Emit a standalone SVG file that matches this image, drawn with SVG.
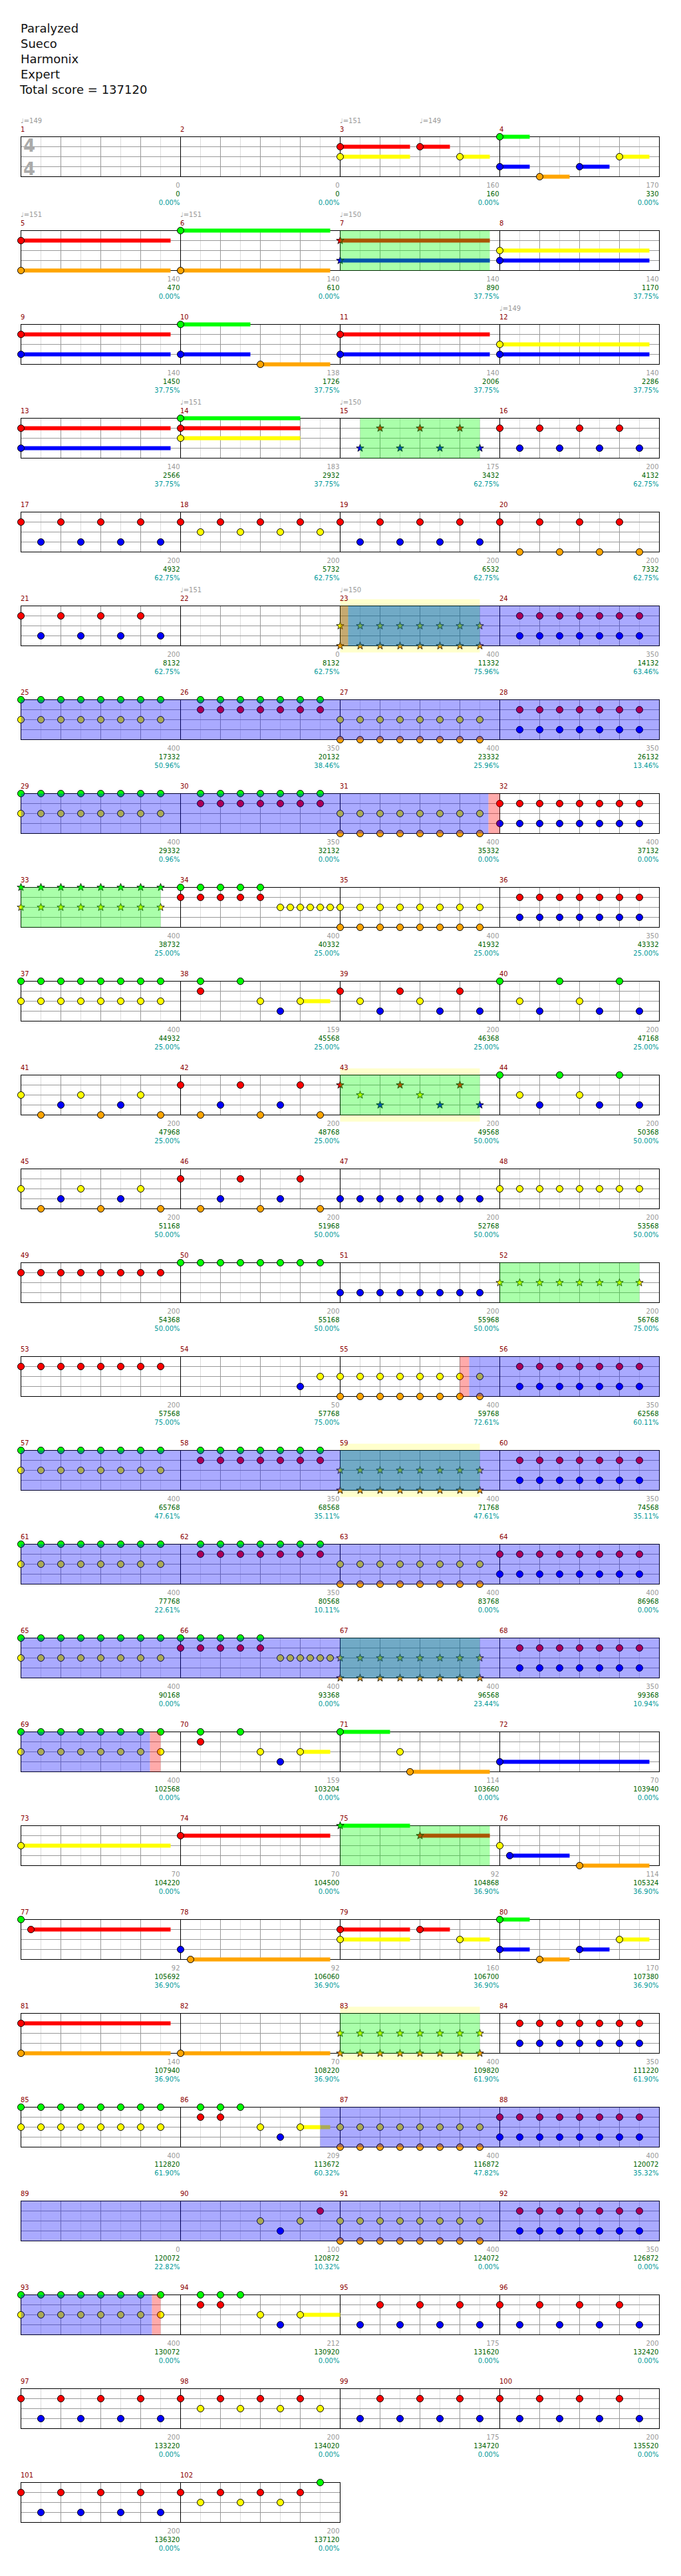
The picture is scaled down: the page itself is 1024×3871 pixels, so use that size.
<svg xmlns="http://www.w3.org/2000/svg" xmlns:xlink="http://www.w3.org/1999/xlink" width="1024" height="3871" viewBox="0 0 1024 3871">
<style>
text{font-family:"DejaVu Sans","Liberation Sans",sans-serif;font-size:10px}
.t{font-size:18px;fill:#111}
.ts{font-size:26px;font-weight:bold;fill:#aaa}
.mn{fill:#8b0000}
.tp{fill:#999}
.e text{text-anchor:end}
.a{fill:#999}.c{fill:#006400}.p{fill:#009999}
circle{stroke:#000;stroke-width:1}
.G{fill:#0f0}.R{fill:#f00}.Y{fill:#ff0}.B{fill:#00f}.O{fill:#ffa500}
.sp{fill:#0f0;opacity:.333}
.bl{fill:#00f;opacity:.333}
.rd{fill:#f00;opacity:.333}
.yl{fill:#ff0;opacity:.2}
</style>
<defs>
<path id="st" d="M0,-6L1.41,-1.94L5.71,-1.85L2.28,0.74L3.53,4.85L0,2.4L-3.53,4.85L-2.28,0.74L-5.71,-1.85L-1.41,-1.94Z" stroke="#000" stroke-width=".8"/>
<g id="staff4">
<rect x="31.5" y="0" width="960" height="60" fill="#fff"/>
<path d="M61.5,0V60M121.5,0V60M181.5,0V60M241.5,0V60M301.5,0V60M361.5,0V60M421.5,0V60M481.5,0V60M541.5,0V60M601.5,0V60M661.5,0V60M721.5,0V60M781.5,0V60M841.5,0V60M901.5,0V60M961.5,0V60" stroke="#ddd"/>
<path d="M91.5,0V60M151.5,0V60M211.5,0V60M331.5,0V60M391.5,0V60M451.5,0V60M571.5,0V60M631.5,0V60M691.5,0V60M811.5,0V60M871.5,0V60M931.5,0V60M31.5,15H991.5M31.5,30H991.5M31.5,45H991.5" stroke="#999"/>
<path d="M271.5,0V60M511.5,0V60M751.5,0V60" stroke="#000"/>
<rect x="31.5" y="0" width="960" height="60" fill="none" stroke="#000"/>
</g>
<g id="staff2">
<rect x="31.5" y="0" width="480" height="60" fill="#fff"/>
<path d="M61.5,0V60M121.5,0V60M181.5,0V60M241.5,0V60M301.5,0V60M361.5,0V60M421.5,0V60M481.5,0V60" stroke="#ddd"/>
<path d="M91.5,0V60M151.5,0V60M211.5,0V60M331.5,0V60M391.5,0V60M451.5,0V60M31.5,15H511.5M31.5,30H511.5M31.5,45H511.5" stroke="#999"/>
<path d="M271.5,0V60" stroke="#000"/>
<rect x="31.5" y="0" width="480" height="60" fill="none" stroke="#000"/>
</g>
<g id="gy8">
<circle cx="31.5" cy="0" r="5" class="G"/><circle cx="61.5" cy="0" r="5" class="G"/><circle cx="91.5" cy="0" r="5" class="G"/><circle cx="121.5" cy="0" r="5" class="G"/><circle cx="151.5" cy="0" r="5" class="G"/><circle cx="181.5" cy="0" r="5" class="G"/><circle cx="211.5" cy="0" r="5" class="G"/><circle cx="241.5" cy="0" r="5" class="G"/>
<circle cx="31.5" cy="30" r="5" class="Y"/><circle cx="61.5" cy="30" r="5" class="Y"/><circle cx="91.5" cy="30" r="5" class="Y"/><circle cx="121.5" cy="30" r="5" class="Y"/><circle cx="151.5" cy="30" r="5" class="Y"/><circle cx="181.5" cy="30" r="5" class="Y"/><circle cx="211.5" cy="30" r="5" class="Y"/><circle cx="241.5" cy="30" r="5" class="Y"/>
</g>
<g id="gr7">
<circle cx="61.5" cy="0" r="5" class="G"/><circle cx="91.5" cy="0" r="5" class="G"/><circle cx="121.5" cy="0" r="5" class="G"/><circle cx="151.5" cy="0" r="5" class="G"/><circle cx="181.5" cy="0" r="5" class="G"/><circle cx="211.5" cy="0" r="5" class="G"/><circle cx="241.5" cy="0" r="5" class="G"/>
<circle cx="61.5" cy="15" r="5" class="R"/><circle cx="91.5" cy="15" r="5" class="R"/><circle cx="121.5" cy="15" r="5" class="R"/><circle cx="151.5" cy="15" r="5" class="R"/><circle cx="181.5" cy="15" r="5" class="R"/><circle cx="211.5" cy="15" r="5" class="R"/><circle cx="241.5" cy="15" r="5" class="R"/>
</g>
<g id="yo8">
<circle cx="31.5" cy="30" r="5" class="Y"/><circle cx="61.5" cy="30" r="5" class="Y"/><circle cx="91.5" cy="30" r="5" class="Y"/><circle cx="121.5" cy="30" r="5" class="Y"/><circle cx="151.5" cy="30" r="5" class="Y"/><circle cx="181.5" cy="30" r="5" class="Y"/><circle cx="211.5" cy="30" r="5" class="Y"/><circle cx="241.5" cy="30" r="5" class="Y"/>
<circle cx="31.5" cy="60" r="5" class="O"/><circle cx="61.5" cy="60" r="5" class="O"/><circle cx="91.5" cy="60" r="5" class="O"/><circle cx="121.5" cy="60" r="5" class="O"/><circle cx="151.5" cy="60" r="5" class="O"/><circle cx="181.5" cy="60" r="5" class="O"/><circle cx="211.5" cy="60" r="5" class="O"/><circle cx="241.5" cy="60" r="5" class="O"/>
</g>
<g id="rb7">
<circle cx="61.5" cy="15" r="5" class="R"/><circle cx="91.5" cy="15" r="5" class="R"/><circle cx="121.5" cy="15" r="5" class="R"/><circle cx="151.5" cy="15" r="5" class="R"/><circle cx="181.5" cy="15" r="5" class="R"/><circle cx="211.5" cy="15" r="5" class="R"/><circle cx="241.5" cy="15" r="5" class="R"/>
<circle cx="61.5" cy="45" r="5" class="B"/><circle cx="91.5" cy="45" r="5" class="B"/><circle cx="121.5" cy="45" r="5" class="B"/><circle cx="151.5" cy="45" r="5" class="B"/><circle cx="181.5" cy="45" r="5" class="B"/><circle cx="211.5" cy="45" r="5" class="B"/><circle cx="241.5" cy="45" r="5" class="B"/>
</g>
<g id="rb8">
<circle cx="31.5" cy="15" r="5" class="R"/><use href="#rb7"/>
<circle cx="31.5" cy="45" r="5" class="B"/>
</g>
<g id="rba">
<circle cx="31.5" cy="15" r="5" class="R"/><circle cx="91.5" cy="15" r="5" class="R"/><circle cx="151.5" cy="15" r="5" class="R"/><circle cx="211.5" cy="15" r="5" class="R"/>
<circle cx="61.5" cy="45" r="5" class="B"/><circle cx="121.5" cy="45" r="5" class="B"/><circle cx="181.5" cy="45" r="5" class="B"/><circle cx="241.5" cy="45" r="5" class="B"/>
</g>
<g id="rbb">
<circle cx="91.5" cy="15" r="5" class="R"/><circle cx="151.5" cy="15" r="5" class="R"/><circle cx="211.5" cy="15" r="5" class="R"/>
<circle cx="61.5" cy="45" r="5" class="B"/><circle cx="121.5" cy="45" r="5" class="B"/><circle cx="181.5" cy="45" r="5" class="B"/><circle cx="241.5" cy="45" r="5" class="B"/>
</g>
<g id="rya">
<circle cx="31.5" cy="15" r="5" class="R"/><circle cx="91.5" cy="15" r="5" class="R"/><circle cx="151.5" cy="15" r="5" class="R"/><circle cx="211.5" cy="15" r="5" class="R"/>
<circle cx="61.5" cy="30" r="5" class="Y"/><circle cx="121.5" cy="30" r="5" class="Y"/><circle cx="181.5" cy="30" r="5" class="Y"/><circle cx="241.5" cy="30" r="5" class="Y"/>
</g>
<g id="roa">
<circle cx="31.5" cy="15" r="5" class="R"/><circle cx="91.5" cy="15" r="5" class="R"/><circle cx="151.5" cy="15" r="5" class="R"/><circle cx="211.5" cy="15" r="5" class="R"/>
<circle cx="61.5" cy="60" r="5" class="O"/><circle cx="121.5" cy="60" r="5" class="O"/><circle cx="181.5" cy="60" r="5" class="O"/><circle cx="241.5" cy="60" r="5" class="O"/>
</g>
<g id="syo8">
<use href="#st" x="31.5" y="30" class="Y"/><use href="#st" x="61.5" y="30" class="Y"/><use href="#st" x="91.5" y="30" class="Y"/><use href="#st" x="121.5" y="30" class="Y"/><use href="#st" x="151.5" y="30" class="Y"/><use href="#st" x="181.5" y="30" class="Y"/><use href="#st" x="211.5" y="30" class="Y"/><use href="#st" x="241.5" y="30" class="Y"/>
<use href="#st" x="31.5" y="60" class="O"/><use href="#st" x="61.5" y="60" class="O"/><use href="#st" x="91.5" y="60" class="O"/><use href="#st" x="121.5" y="60" class="O"/><use href="#st" x="151.5" y="60" class="O"/><use href="#st" x="181.5" y="60" class="O"/><use href="#st" x="211.5" y="60" class="O"/><use href="#st" x="241.5" y="60" class="O"/>
</g>
<g id="sy8">
<use href="#st" x="31.5" y="30" class="Y"/><use href="#st" x="61.5" y="30" class="Y"/><use href="#st" x="91.5" y="30" class="Y"/><use href="#st" x="121.5" y="30" class="Y"/><use href="#st" x="151.5" y="30" class="Y"/><use href="#st" x="181.5" y="30" class="Y"/><use href="#st" x="211.5" y="30" class="Y"/><use href="#st" x="241.5" y="30" class="Y"/>
</g>
<g id="sgy8">
<use href="#st" x="31.5" y="0" class="G"/><use href="#st" x="61.5" y="0" class="G"/><use href="#st" x="91.5" y="0" class="G"/><use href="#st" x="121.5" y="0" class="G"/><use href="#st" x="151.5" y="0" class="G"/><use href="#st" x="181.5" y="0" class="G"/><use href="#st" x="211.5" y="0" class="G"/><use href="#st" x="241.5" y="0" class="G"/>
<use href="#sy8"/>
</g>
<g id="gry">
<circle cx="31.5" cy="0" r="5" class="G"/><circle cx="61.5" cy="0" r="5" class="G"/><circle cx="91.5" cy="0" r="5" class="G"/><circle cx="121.5" cy="0" r="5" class="G"/><circle cx="151.5" cy="0" r="5" class="G"/>
<circle cx="31.5" cy="15" r="5" class="R"/><circle cx="61.5" cy="15" r="5" class="R"/><circle cx="91.5" cy="15" r="5" class="R"/><circle cx="121.5" cy="15" r="5" class="R"/><circle cx="151.5" cy="15" r="5" class="R"/>
<circle cx="181.5" cy="30" r="5" class="Y"/><circle cx="196.5" cy="30" r="5" class="Y"/><circle cx="211.5" cy="30" r="5" class="Y"/><circle cx="226.5" cy="30" r="5" class="Y"/><circle cx="241.5" cy="30" r="5" class="Y"/><circle cx="256.5" cy="30" r="5" class="Y"/>
</g>
<g id="fa">
<rect class="Y" x="211.5" y="27" width="45" height="6"/>
<circle cx="61.5" cy="0" r="5" class="G"/><circle cx="121.5" cy="0" r="5" class="G"/><circle cx="61.5" cy="15" r="5" class="R"/><circle cx="151.5" cy="30" r="5" class="Y"/><circle cx="181.5" cy="45" r="5" class="B"/><circle cx="211.5" cy="30" r="5" class="Y"/>
</g>
<g id="fb">
<circle cx="61.5" cy="0" r="5" class="G"/><circle cx="91.5" cy="0" r="5" class="G"/><circle cx="121.5" cy="0" r="5" class="G"/><circle cx="61.5" cy="15" r="5" class="R"/><circle cx="91.5" cy="15" r="5" class="R"/><circle cx="151.5" cy="30" r="5" class="Y"/><circle cx="181.5" cy="45" r="5" class="B"/><circle cx="211.5" cy="30" r="5" class="Y"/>
</g>
<g id="ryb">
<circle cx="31.5" cy="15" r="5" class="R"/><circle cx="121.5" cy="15" r="5" class="R"/><circle cx="211.5" cy="15" r="5" class="R"/>
<circle cx="61.5" cy="30" r="5" class="Y"/><circle cx="151.5" cy="30" r="5" class="Y"/>
<circle cx="91.5" cy="45" r="5" class="B"/><circle cx="181.5" cy="45" r="5" class="B"/><circle cx="241.5" cy="45" r="5" class="B"/>
</g>
<g id="sryb">
<use href="#st" x="31.5" y="15" class="R"/><use href="#st" x="121.5" y="15" class="R"/><use href="#st" x="211.5" y="15" class="R"/>
<use href="#st" x="61.5" y="30" class="Y"/><use href="#st" x="151.5" y="30" class="Y"/>
<use href="#st" x="91.5" y="45" class="B"/><use href="#st" x="181.5" y="45" class="B"/><use href="#st" x="241.5" y="45" class="B"/>
</g>
<g id="srbb">
<use href="#st" x="91.5" y="15" class="R"/><use href="#st" x="151.5" y="15" class="R"/><use href="#st" x="211.5" y="15" class="R"/>
<use href="#st" x="61.5" y="45" class="B"/><use href="#st" x="121.5" y="45" class="B"/><use href="#st" x="181.5" y="45" class="B"/><use href="#st" x="241.5" y="45" class="B"/>
</g>
<g id="gyb">
<circle cx="31.5" cy="0" r="5" class="G"/><circle cx="121.5" cy="0" r="5" class="G"/><circle cx="211.5" cy="0" r="5" class="G"/>
<circle cx="61.5" cy="30" r="5" class="Y"/><circle cx="151.5" cy="30" r="5" class="Y"/>
<circle cx="91.5" cy="45" r="5" class="B"/><circle cx="181.5" cy="45" r="5" class="B"/><circle cx="241.5" cy="45" r="5" class="B"/>
</g>
<g id="yob">
<circle cx="31.5" cy="30" r="5" class="Y"/><circle cx="121.5" cy="30" r="5" class="Y"/><circle cx="211.5" cy="30" r="5" class="Y"/>
<circle cx="61.5" cy="60" r="5" class="O"/><circle cx="151.5" cy="60" r="5" class="O"/><circle cx="241.5" cy="60" r="5" class="O"/>
<circle cx="91.5" cy="45" r="5" class="B"/><circle cx="181.5" cy="45" r="5" class="B"/>
</g>
<g id="rob">
<circle cx="31.5" cy="15" r="5" class="R"/><circle cx="121.5" cy="15" r="5" class="R"/><circle cx="211.5" cy="15" r="5" class="R"/>
<circle cx="61.5" cy="60" r="5" class="O"/><circle cx="151.5" cy="60" r="5" class="O"/><circle cx="241.5" cy="60" r="5" class="O"/>
<circle cx="91.5" cy="45" r="5" class="B"/><circle cx="181.5" cy="45" r="5" class="B"/>
</g>
<g id="s3">
<rect class="R" x="31.5" y="12" width="105" height="6"/><rect class="Y" x="31.5" y="27" width="105" height="6"/><rect class="R" x="151.5" y="12" width="45" height="6"/><rect class="Y" x="211.5" y="27" width="45" height="6"/>
<circle cx="31.5" cy="15" r="5" class="R"/><circle cx="31.5" cy="30" r="5" class="Y"/><circle cx="151.5" cy="15" r="5" class="R"/><circle cx="211.5" cy="30" r="5" class="Y"/>
</g>
<g id="s4">
<rect class="G" x="31.5" y="-3" width="45" height="6"/><rect class="B" x="31.5" y="42" width="45" height="6"/><rect class="O" x="91.5" y="57" width="45" height="6"/><rect class="B" x="151.5" y="42" width="45" height="6"/><rect class="Y" x="211.5" y="27" width="45" height="6"/>
<circle cx="31.5" cy="0" r="5" class="G"/><circle cx="31.5" cy="45" r="5" class="B"/><circle cx="91.5" cy="60" r="5" class="O"/><circle cx="151.5" cy="45" r="5" class="B"/><circle cx="211.5" cy="30" r="5" class="Y"/>
</g>
<g id="r8">
<circle cx="31.5" cy="15" r="5" class="R"/><circle cx="61.5" cy="15" r="5" class="R"/><circle cx="91.5" cy="15" r="5" class="R"/><circle cx="121.5" cy="15" r="5" class="R"/><circle cx="151.5" cy="15" r="5" class="R"/><circle cx="181.5" cy="15" r="5" class="R"/><circle cx="211.5" cy="15" r="5" class="R"/><circle cx="241.5" cy="15" r="5" class="R"/>
</g>
<g id="g8">
<circle cx="31.5" cy="0" r="5" class="G"/><circle cx="61.5" cy="0" r="5" class="G"/><circle cx="91.5" cy="0" r="5" class="G"/><circle cx="121.5" cy="0" r="5" class="G"/><circle cx="151.5" cy="0" r="5" class="G"/><circle cx="181.5" cy="0" r="5" class="G"/><circle cx="211.5" cy="0" r="5" class="G"/><circle cx="241.5" cy="0" r="5" class="G"/>
</g>
<g id="b8">
<circle cx="31.5" cy="45" r="5" class="B"/><circle cx="61.5" cy="45" r="5" class="B"/><circle cx="91.5" cy="45" r="5" class="B"/><circle cx="121.5" cy="45" r="5" class="B"/><circle cx="151.5" cy="45" r="5" class="B"/><circle cx="181.5" cy="45" r="5" class="B"/><circle cx="211.5" cy="45" r="5" class="B"/><circle cx="241.5" cy="45" r="5" class="B"/>
</g>
<g id="y8">
<circle cx="31.5" cy="30" r="5" class="Y"/><circle cx="61.5" cy="30" r="5" class="Y"/><circle cx="91.5" cy="30" r="5" class="Y"/><circle cx="121.5" cy="30" r="5" class="Y"/><circle cx="151.5" cy="30" r="5" class="Y"/><circle cx="181.5" cy="30" r="5" class="Y"/><circle cx="211.5" cy="30" r="5" class="Y"/><circle cx="241.5" cy="30" r="5" class="Y"/>
</g>
</defs>
<rect width="1024" height="3871" fill="#fff"/>
<g id="title">
<text x="31" y="49" class="t">Paralyzed</text>
<text x="31" y="72" class="t">Sueco</text>
<text x="31" y="95" class="t">Harmonix</text>
<text x="31" y="118" class="t">Expert</text>
<text x="30" y="141" class="t">Total score = 137120</text>
</g>

<g id="row1" transform="translate(0,205.5)">
<text x="31" y="-21" class="tp">♩=149</text><text x="511" y="-21" class="tp">♩=151</text><text x="631" y="-21" class="tp">♩=149</text>
<text x="31" y="-8" class="mn">1</text><text x="271" y="-8" class="mn">2</text><text x="511" y="-8" class="mn">3</text><text x="751" y="-8" class="mn">4</text>
<use href="#staff4"/>
<text x="35" y="22.5" class="ts">4</text><text x="35" y="57.5" class="ts">4</text>
<use href="#s3" x="480"/><use href="#s4" x="720"/>
<g class="e"><text x="270.5" y="76" class="a">0</text><text x="270.5" y="89" class="c">0</text><text x="270.5" y="102" class="p">0.00%</text>
<text x="510.5" y="76" class="a">0</text><text x="510.5" y="89" class="c">0</text><text x="510.5" y="102" class="p">0.00%</text>
<text x="750.5" y="76" class="a">160</text><text x="750.5" y="89" class="c">160</text><text x="750.5" y="102" class="p">0.00%</text>
<text x="990.5" y="76" class="a">170</text><text x="990.5" y="89" class="c">330</text><text x="990.5" y="102" class="p">0.00%</text></g>
</g>

<g id="row2" transform="translate(0,346.5)">
<text x="31" y="-21" class="tp">♩=151</text><text x="271" y="-21" class="tp">♩=151</text><text x="511" y="-21" class="tp">♩=150</text>
<text x="31" y="-8" class="mn">5</text><text x="271" y="-8" class="mn">6</text><text x="511" y="-8" class="mn">7</text><text x="751" y="-8" class="mn">8</text>
<use href="#staff4"/>
<rect class="R" x="31.5" y="12" width="225" height="6"/><rect class="O" x="31.5" y="57" width="225" height="6"/><rect class="G" x="271.5" y="-3" width="225" height="6"/><rect class="O" x="271.5" y="57" width="225" height="6"/><rect class="R" x="511.5" y="12" width="225" height="6"/><rect class="B" x="511.5" y="42" width="225" height="6"/><rect class="Y" x="751.5" y="27" width="225" height="6"/><rect class="B" x="751.5" y="42" width="225" height="6"/>
<circle cx="31.5" cy="15" r="5" class="R"/><circle cx="31.5" cy="60" r="5" class="O"/><circle cx="271.5" cy="0" r="5" class="G"/><circle cx="271.5" cy="60" r="5" class="O"/><use href="#st" x="511.5" y="15" class="R"/><use href="#st" x="511.5" y="45" class="B"/><circle cx="751.5" cy="30" r="5" class="Y"/><circle cx="751.5" cy="45" r="5" class="B"/>
<rect class="sp" x="511.5" y="0" width="225" height="60"/>
<g class="e"><text x="270.5" y="76" class="a">140</text><text x="270.5" y="89" class="c">470</text><text x="270.5" y="102" class="p">0.00%</text>
<text x="510.5" y="76" class="a">140</text><text x="510.5" y="89" class="c">610</text><text x="510.5" y="102" class="p">0.00%</text>
<text x="750.5" y="76" class="a">140</text><text x="750.5" y="89" class="c">890</text><text x="750.5" y="102" class="p">37.75%</text>
<text x="990.5" y="76" class="a">140</text><text x="990.5" y="89" class="c">1170</text><text x="990.5" y="102" class="p">37.75%</text></g>
</g>

<g id="row3" transform="translate(0,487.5)">
<text x="751" y="-21" class="tp">♩=149</text>
<text x="31" y="-8" class="mn">9</text><text x="271" y="-8" class="mn">10</text><text x="511" y="-8" class="mn">11</text><text x="751" y="-8" class="mn">12</text>
<use href="#staff4"/>
<rect class="R" x="31.5" y="12" width="225" height="6"/><rect class="B" x="31.5" y="42" width="225" height="6"/><rect class="G" x="271.5" y="-3" width="105" height="6"/><rect class="B" x="271.5" y="42" width="105" height="6"/><rect class="O" x="391.5" y="57" width="105" height="6"/><rect class="R" x="511.5" y="12" width="225" height="6"/><rect class="B" x="511.5" y="42" width="225" height="6"/><rect class="Y" x="751.5" y="27" width="225" height="6"/><rect class="B" x="751.5" y="42" width="225" height="6"/>
<circle cx="31.5" cy="15" r="5" class="R"/><circle cx="31.5" cy="45" r="5" class="B"/><circle cx="271.5" cy="0" r="5" class="G"/><circle cx="271.5" cy="45" r="5" class="B"/><circle cx="391.5" cy="60" r="5" class="O"/><circle cx="511.5" cy="15" r="5" class="R"/><circle cx="511.5" cy="45" r="5" class="B"/><circle cx="751.5" cy="30" r="5" class="Y"/><circle cx="751.5" cy="45" r="5" class="B"/>
<g class="e"><text x="270.5" y="76" class="a">140</text><text x="270.5" y="89" class="c">1450</text><text x="270.5" y="102" class="p">37.75%</text>
<text x="510.5" y="76" class="a">138</text><text x="510.5" y="89" class="c">1726</text><text x="510.5" y="102" class="p">37.75%</text>
<text x="750.5" y="76" class="a">140</text><text x="750.5" y="89" class="c">2006</text><text x="750.5" y="102" class="p">37.75%</text>
<text x="990.5" y="76" class="a">140</text><text x="990.5" y="89" class="c">2286</text><text x="990.5" y="102" class="p">37.75%</text></g>
</g>

<g id="row4" transform="translate(0,628.5)">
<text x="271" y="-21" class="tp">♩=151</text><text x="511" y="-21" class="tp">♩=150</text>
<text x="31" y="-8" class="mn">13</text><text x="271" y="-8" class="mn">14</text><text x="511" y="-8" class="mn">15</text><text x="751" y="-8" class="mn">16</text>
<use href="#staff4"/>
<rect class="R" x="31.5" y="12" width="225" height="6"/><rect class="B" x="31.5" y="42" width="225" height="6"/><rect class="G" x="271.5" y="-3" width="180" height="6"/><rect class="R" x="271.5" y="12" width="180" height="6"/><rect class="Y" x="271.5" y="27" width="180" height="6"/>
<circle cx="31.5" cy="15" r="5" class="R"/><circle cx="31.5" cy="45" r="5" class="B"/><circle cx="271.5" cy="0" r="5" class="G"/><circle cx="271.5" cy="15" r="5" class="R"/><circle cx="271.5" cy="30" r="5" class="Y"/>
<use href="#srbb" x="480"/><use href="#rba" x="720"/>
<rect class="sp" x="541.5" y="0" width="180" height="60"/>
<g class="e"><text x="270.5" y="76" class="a">140</text><text x="270.5" y="89" class="c">2566</text><text x="270.5" y="102" class="p">37.75%</text>
<text x="510.5" y="76" class="a">183</text><text x="510.5" y="89" class="c">2932</text><text x="510.5" y="102" class="p">37.75%</text>
<text x="750.5" y="76" class="a">175</text><text x="750.5" y="89" class="c">3432</text><text x="750.5" y="102" class="p">62.75%</text>
<text x="990.5" y="76" class="a">200</text><text x="990.5" y="89" class="c">4132</text><text x="990.5" y="102" class="p">62.75%</text></g>
</g>

<g id="row5" transform="translate(0,769.5)">
<text x="31" y="-8" class="mn">17</text><text x="271" y="-8" class="mn">18</text><text x="511" y="-8" class="mn">19</text><text x="751" y="-8" class="mn">20</text>
<use href="#staff4"/>
<use href="#rba"/><use href="#rya" x="240"/><use href="#rba" x="480"/><use href="#roa" x="720"/>
<g class="e"><text x="270.5" y="76" class="a">200</text><text x="270.5" y="89" class="c">4932</text><text x="270.5" y="102" class="p">62.75%</text>
<text x="510.5" y="76" class="a">200</text><text x="510.5" y="89" class="c">5732</text><text x="510.5" y="102" class="p">62.75%</text>
<text x="750.5" y="76" class="a">200</text><text x="750.5" y="89" class="c">6532</text><text x="750.5" y="102" class="p">62.75%</text>
<text x="990.5" y="76" class="a">200</text><text x="990.5" y="89" class="c">7332</text><text x="990.5" y="102" class="p">62.75%</text></g>
</g>

<g id="row6" transform="translate(0,910.5)">
<rect class="yl" x="511.5" y="-10" width="210" height="80"/>
<text x="271" y="-21" class="tp">♩=151</text><text x="511" y="-21" class="tp">♩=150</text>
<text x="31" y="-8" class="mn">21</text><text x="271" y="-8" class="mn">22</text><text x="511" y="-8" class="mn">23</text><text x="751" y="-8" class="mn">24</text>
<use href="#staff4"/>
<use href="#rba"/><use href="#syo8" x="480"/><use href="#rb7" x="720"/>
<rect class="sp" x="511.5" y="0" width="210" height="60"/><rect class="rd" x="511.5" y="0" width="12" height="60"/><rect class="bl" x="523.5" y="0" width="468" height="60"/>
<g class="e"><text x="270.5" y="76" class="a">200</text><text x="270.5" y="89" class="c">8132</text><text x="270.5" y="102" class="p">62.75%</text>
<text x="510.5" y="76" class="a">0</text><text x="510.5" y="89" class="c">8132</text><text x="510.5" y="102" class="p">62.75%</text>
<text x="750.5" y="76" class="a">400</text><text x="750.5" y="89" class="c">11332</text><text x="750.5" y="102" class="p">75.96%</text>
<text x="990.5" y="76" class="a">350</text><text x="990.5" y="89" class="c">14132</text><text x="990.5" y="102" class="p">63.46%</text></g>
</g>

<g id="row7" transform="translate(0,1051.5)">
<text x="31" y="-8" class="mn">25</text><text x="271" y="-8" class="mn">26</text><text x="511" y="-8" class="mn">27</text><text x="751" y="-8" class="mn">28</text>
<use href="#staff4"/>
<use href="#gy8"/><use href="#gr7" x="240"/><use href="#yo8" x="480"/><use href="#rb7" x="720"/>
<rect class="bl" x="31.5" y="0" width="960" height="60"/>
<g class="e"><text x="270.5" y="76" class="a">400</text><text x="270.5" y="89" class="c">17332</text><text x="270.5" y="102" class="p">50.96%</text>
<text x="510.5" y="76" class="a">350</text><text x="510.5" y="89" class="c">20132</text><text x="510.5" y="102" class="p">38.46%</text>
<text x="750.5" y="76" class="a">400</text><text x="750.5" y="89" class="c">23332</text><text x="750.5" y="102" class="p">25.96%</text>
<text x="990.5" y="76" class="a">350</text><text x="990.5" y="89" class="c">26132</text><text x="990.5" y="102" class="p">13.46%</text></g>
</g>

<g id="row8" transform="translate(0,1192.5)">
<text x="31" y="-8" class="mn">29</text><text x="271" y="-8" class="mn">30</text><text x="511" y="-8" class="mn">31</text><text x="751" y="-8" class="mn">32</text>
<use href="#staff4"/>
<use href="#gy8"/><use href="#gr7" x="240"/><use href="#yo8" x="480"/><use href="#rb8" x="720"/>
<rect class="bl" x="31.5" y="0" width="703" height="60"/><rect class="rd" x="734.5" y="0" width="17" height="60"/>
<g class="e"><text x="270.5" y="76" class="a">400</text><text x="270.5" y="89" class="c">29332</text><text x="270.5" y="102" class="p">0.96%</text>
<text x="510.5" y="76" class="a">350</text><text x="510.5" y="89" class="c">32132</text><text x="510.5" y="102" class="p">0.00%</text>
<text x="750.5" y="76" class="a">400</text><text x="750.5" y="89" class="c">35332</text><text x="750.5" y="102" class="p">0.00%</text>
<text x="990.5" y="76" class="a">400</text><text x="990.5" y="89" class="c">37132</text><text x="990.5" y="102" class="p">0.00%</text></g>
</g>

<g id="row9" transform="translate(0,1333.5)">
<text x="31" y="-8" class="mn">33</text><text x="271" y="-8" class="mn">34</text><text x="511" y="-8" class="mn">35</text><text x="751" y="-8" class="mn">36</text>
<use href="#staff4"/>
<use href="#sgy8"/><use href="#gry" x="240"/><use href="#yo8" x="480"/><use href="#rb7" x="720"/>
<rect class="sp" x="31.5" y="0" width="210" height="60"/>
<g class="e"><text x="270.5" y="76" class="a">400</text><text x="270.5" y="89" class="c">38732</text><text x="270.5" y="102" class="p">25.00%</text>
<text x="510.5" y="76" class="a">400</text><text x="510.5" y="89" class="c">40332</text><text x="510.5" y="102" class="p">25.00%</text>
<text x="750.5" y="76" class="a">400</text><text x="750.5" y="89" class="c">41932</text><text x="750.5" y="102" class="p">25.00%</text>
<text x="990.5" y="76" class="a">350</text><text x="990.5" y="89" class="c">43332</text><text x="990.5" y="102" class="p">25.00%</text></g>
</g>

<g id="row10" transform="translate(0,1474.5)">
<text x="31" y="-8" class="mn">37</text><text x="271" y="-8" class="mn">38</text><text x="511" y="-8" class="mn">39</text><text x="751" y="-8" class="mn">40</text>
<use href="#staff4"/>
<use href="#gy8"/><use href="#fa" x="240"/><use href="#ryb" x="480"/><use href="#gyb" x="720"/>
<g class="e"><text x="270.5" y="76" class="a">400</text><text x="270.5" y="89" class="c">44932</text><text x="270.5" y="102" class="p">25.00%</text>
<text x="510.5" y="76" class="a">159</text><text x="510.5" y="89" class="c">45568</text><text x="510.5" y="102" class="p">25.00%</text>
<text x="750.5" y="76" class="a">200</text><text x="750.5" y="89" class="c">46368</text><text x="750.5" y="102" class="p">25.00%</text>
<text x="990.5" y="76" class="a">200</text><text x="990.5" y="89" class="c">47168</text><text x="990.5" y="102" class="p">25.00%</text></g>
</g>

<g id="row11" transform="translate(0,1615.5)">
<rect class="yl" x="511.5" y="-10" width="210" height="80"/>
<text x="31" y="-8" class="mn">41</text><text x="271" y="-8" class="mn">42</text><text x="511" y="-8" class="mn">43</text><text x="751" y="-8" class="mn">44</text>
<use href="#staff4"/>
<use href="#yob"/><use href="#rob" x="240"/><use href="#sryb" x="480"/><use href="#gyb" x="720"/>
<rect class="sp" x="511.5" y="0" width="210" height="60"/>
<g class="e"><text x="270.5" y="76" class="a">200</text><text x="270.5" y="89" class="c">47968</text><text x="270.5" y="102" class="p">25.00%</text>
<text x="510.5" y="76" class="a">200</text><text x="510.5" y="89" class="c">48768</text><text x="510.5" y="102" class="p">25.00%</text>
<text x="750.5" y="76" class="a">200</text><text x="750.5" y="89" class="c">49568</text><text x="750.5" y="102" class="p">50.00%</text>
<text x="990.5" y="76" class="a">200</text><text x="990.5" y="89" class="c">50368</text><text x="990.5" y="102" class="p">50.00%</text></g>
</g>

<g id="row12" transform="translate(0,1756.5)">
<text x="31" y="-8" class="mn">45</text><text x="271" y="-8" class="mn">46</text><text x="511" y="-8" class="mn">47</text><text x="751" y="-8" class="mn">48</text>
<use href="#staff4"/>
<use href="#yob"/><use href="#rob" x="240"/><use href="#b8" x="480"/><use href="#y8" x="720"/>
<g class="e"><text x="270.5" y="76" class="a">200</text><text x="270.5" y="89" class="c">51168</text><text x="270.5" y="102" class="p">50.00%</text>
<text x="510.5" y="76" class="a">200</text><text x="510.5" y="89" class="c">51968</text><text x="510.5" y="102" class="p">50.00%</text>
<text x="750.5" y="76" class="a">200</text><text x="750.5" y="89" class="c">52768</text><text x="750.5" y="102" class="p">50.00%</text>
<text x="990.5" y="76" class="a">200</text><text x="990.5" y="89" class="c">53568</text><text x="990.5" y="102" class="p">50.00%</text></g>
</g>

<g id="row13" transform="translate(0,1897.5)">
<text x="31" y="-8" class="mn">49</text><text x="271" y="-8" class="mn">50</text><text x="511" y="-8" class="mn">51</text><text x="751" y="-8" class="mn">52</text>
<use href="#staff4"/>
<use href="#r8"/><use href="#g8" x="240"/><use href="#b8" x="480"/><use href="#sy8" x="720"/>
<rect class="sp" x="751.5" y="0" width="210" height="60"/>
<g class="e"><text x="270.5" y="76" class="a">200</text><text x="270.5" y="89" class="c">54368</text><text x="270.5" y="102" class="p">50.00%</text>
<text x="510.5" y="76" class="a">200</text><text x="510.5" y="89" class="c">55168</text><text x="510.5" y="102" class="p">50.00%</text>
<text x="750.5" y="76" class="a">200</text><text x="750.5" y="89" class="c">55968</text><text x="750.5" y="102" class="p">50.00%</text>
<text x="990.5" y="76" class="a">200</text><text x="990.5" y="89" class="c">56768</text><text x="990.5" y="102" class="p">75.00%</text></g>
</g>

<g id="row14" transform="translate(0,2038.5)">
<text x="31" y="-8" class="mn">53</text><text x="271" y="-8" class="mn">54</text><text x="511" y="-8" class="mn">55</text><text x="751" y="-8" class="mn">56</text>
<use href="#staff4"/>
<use href="#r8"/><circle cx="451.5" cy="45" r="5" class="B"/><circle cx="481.5" cy="30" r="5" class="Y"/><use href="#yo8" x="480"/><use href="#rb7" x="720"/>
<rect class="rd" x="691.5" y="0" width="14" height="60"/><rect class="bl" x="705.5" y="0" width="286" height="60"/>
<g class="e"><text x="270.5" y="76" class="a">200</text><text x="270.5" y="89" class="c">57568</text><text x="270.5" y="102" class="p">75.00%</text>
<text x="510.5" y="76" class="a">50</text><text x="510.5" y="89" class="c">57768</text><text x="510.5" y="102" class="p">75.00%</text>
<text x="750.5" y="76" class="a">400</text><text x="750.5" y="89" class="c">59768</text><text x="750.5" y="102" class="p">72.61%</text>
<text x="990.5" y="76" class="a">350</text><text x="990.5" y="89" class="c">62568</text><text x="990.5" y="102" class="p">60.11%</text></g>
</g>

<g id="row15" transform="translate(0,2179.5)">
<rect class="yl" x="511.5" y="-10" width="210" height="80"/>
<text x="31" y="-8" class="mn">57</text><text x="271" y="-8" class="mn">58</text><text x="511" y="-8" class="mn">59</text><text x="751" y="-8" class="mn">60</text>
<use href="#staff4"/>
<use href="#gy8"/><use href="#gr7" x="240"/><use href="#syo8" x="480"/><use href="#rb7" x="720"/>
<rect class="sp" x="511.5" y="0" width="210" height="60"/><rect class="bl" x="31.5" y="0" width="960" height="60"/>
<g class="e"><text x="270.5" y="76" class="a">400</text><text x="270.5" y="89" class="c">65768</text><text x="270.5" y="102" class="p">47.61%</text>
<text x="510.5" y="76" class="a">350</text><text x="510.5" y="89" class="c">68568</text><text x="510.5" y="102" class="p">35.11%</text>
<text x="750.5" y="76" class="a">400</text><text x="750.5" y="89" class="c">71768</text><text x="750.5" y="102" class="p">47.61%</text>
<text x="990.5" y="76" class="a">350</text><text x="990.5" y="89" class="c">74568</text><text x="990.5" y="102" class="p">35.11%</text></g>
</g>

<g id="row16" transform="translate(0,2320.5)">
<text x="31" y="-8" class="mn">61</text><text x="271" y="-8" class="mn">62</text><text x="511" y="-8" class="mn">63</text><text x="751" y="-8" class="mn">64</text>
<use href="#staff4"/>
<use href="#gy8"/><use href="#gr7" x="240"/><use href="#yo8" x="480"/><use href="#rb8" x="720"/>
<rect class="bl" x="31.5" y="0" width="960" height="60"/>
<g class="e"><text x="270.5" y="76" class="a">400</text><text x="270.5" y="89" class="c">77768</text><text x="270.5" y="102" class="p">22.61%</text>
<text x="510.5" y="76" class="a">350</text><text x="510.5" y="89" class="c">80568</text><text x="510.5" y="102" class="p">10.11%</text>
<text x="750.5" y="76" class="a">400</text><text x="750.5" y="89" class="c">83768</text><text x="750.5" y="102" class="p">0.00%</text>
<text x="990.5" y="76" class="a">400</text><text x="990.5" y="89" class="c">86968</text><text x="990.5" y="102" class="p">0.00%</text></g>
</g>

<g id="row17" transform="translate(0,2461.5)">
<text x="31" y="-8" class="mn">65</text><text x="271" y="-8" class="mn">66</text><text x="511" y="-8" class="mn">67</text><text x="751" y="-8" class="mn">68</text>
<use href="#staff4"/>
<use href="#gy8"/><use href="#gry" x="240"/><use href="#syo8" x="480"/><use href="#rb7" x="720"/>
<rect class="sp" x="511.5" y="0" width="210" height="60"/><rect class="bl" x="31.5" y="0" width="960" height="60"/>
<g class="e"><text x="270.5" y="76" class="a">400</text><text x="270.5" y="89" class="c">90168</text><text x="270.5" y="102" class="p">0.00%</text>
<text x="510.5" y="76" class="a">400</text><text x="510.5" y="89" class="c">93368</text><text x="510.5" y="102" class="p">0.00%</text>
<text x="750.5" y="76" class="a">400</text><text x="750.5" y="89" class="c">96568</text><text x="750.5" y="102" class="p">23.44%</text>
<text x="990.5" y="76" class="a">350</text><text x="990.5" y="89" class="c">99368</text><text x="990.5" y="102" class="p">10.94%</text></g>
</g>

<g id="row18" transform="translate(0,2602.5)">
<text x="31" y="-8" class="mn">69</text><text x="271" y="-8" class="mn">70</text><text x="511" y="-8" class="mn">71</text><text x="751" y="-8" class="mn">72</text>
<use href="#staff4"/>
<use href="#gy8"/><use href="#fa" x="240"/>
<rect class="G" x="511.5" y="-3" width="75" height="6"/><rect class="O" x="616.5" y="57" width="120" height="6"/><rect class="B" x="751.5" y="42" width="225" height="6"/>
<circle cx="511.5" cy="0" r="5" class="G"/><circle cx="601.5" cy="30" r="5" class="Y"/><circle cx="616.5" cy="60" r="5" class="O"/><circle cx="751.5" cy="45" r="5" class="B"/>
<rect class="bl" x="31.5" y="0" width="194" height="60"/><rect class="rd" x="225.5" y="0" width="16" height="60"/>
<g class="e"><text x="270.5" y="76" class="a">400</text><text x="270.5" y="89" class="c">102568</text><text x="270.5" y="102" class="p">0.00%</text>
<text x="510.5" y="76" class="a">159</text><text x="510.5" y="89" class="c">103204</text><text x="510.5" y="102" class="p">0.00%</text>
<text x="750.5" y="76" class="a">114</text><text x="750.5" y="89" class="c">103660</text><text x="750.5" y="102" class="p">0.00%</text>
<text x="990.5" y="76" class="a">70</text><text x="990.5" y="89" class="c">103940</text><text x="990.5" y="102" class="p">0.00%</text></g>
</g>

<g id="row19" transform="translate(0,2743.5)">
<text x="31" y="-8" class="mn">73</text><text x="271" y="-8" class="mn">74</text><text x="511" y="-8" class="mn">75</text><text x="751" y="-8" class="mn">76</text>
<use href="#staff4"/>
<rect class="Y" x="31.5" y="27" width="225" height="6"/><rect class="R" x="271.5" y="12" width="225" height="6"/><rect class="G" x="511.5" y="-3" width="105" height="6"/><rect class="R" x="631.5" y="12" width="105" height="6"/><rect class="B" x="766.5" y="42" width="90" height="6"/><rect class="O" x="871.5" y="57" width="105" height="6"/>
<circle cx="31.5" cy="30" r="5" class="Y"/><circle cx="271.5" cy="15" r="5" class="R"/><use href="#st" x="511.5" y="0" class="G"/><use href="#st" x="631.5" y="15" class="R"/><circle cx="751.5" cy="30" r="5" class="Y"/><circle cx="766.5" cy="45" r="5" class="B"/><circle cx="871.5" cy="60" r="5" class="O"/>
<rect class="sp" x="511.5" y="0" width="225" height="60"/>
<g class="e"><text x="270.5" y="76" class="a">70</text><text x="270.5" y="89" class="c">104220</text><text x="270.5" y="102" class="p">0.00%</text>
<text x="510.5" y="76" class="a">70</text><text x="510.5" y="89" class="c">104500</text><text x="510.5" y="102" class="p">0.00%</text>
<text x="750.5" y="76" class="a">92</text><text x="750.5" y="89" class="c">104868</text><text x="750.5" y="102" class="p">36.90%</text>
<text x="990.5" y="76" class="a">114</text><text x="990.5" y="89" class="c">105324</text><text x="990.5" y="102" class="p">36.90%</text></g>
</g>

<g id="row20" transform="translate(0,2884.5)">
<text x="31" y="-8" class="mn">77</text><text x="271" y="-8" class="mn">78</text><text x="511" y="-8" class="mn">79</text><text x="751" y="-8" class="mn">80</text>
<use href="#staff4"/>
<rect class="R" x="46.5" y="12" width="210" height="6"/><rect class="O" x="286.5" y="57" width="210" height="6"/>
<circle cx="31.5" cy="0" r="5" class="G"/><circle cx="46.5" cy="15" r="5" class="R"/><circle cx="271.5" cy="45" r="5" class="B"/><circle cx="286.5" cy="60" r="5" class="O"/>
<use href="#s3" x="480"/><use href="#s4" x="720"/>
<g class="e"><text x="270.5" y="76" class="a">92</text><text x="270.5" y="89" class="c">105692</text><text x="270.5" y="102" class="p">36.90%</text>
<text x="510.5" y="76" class="a">92</text><text x="510.5" y="89" class="c">106060</text><text x="510.5" y="102" class="p">36.90%</text>
<text x="750.5" y="76" class="a">160</text><text x="750.5" y="89" class="c">106700</text><text x="750.5" y="102" class="p">36.90%</text>
<text x="990.5" y="76" class="a">170</text><text x="990.5" y="89" class="c">107380</text><text x="990.5" y="102" class="p">36.90%</text></g>
</g>

<g id="row21" transform="translate(0,3025.5)">
<rect class="yl" x="511.5" y="-10" width="210" height="80"/>
<text x="31" y="-8" class="mn">81</text><text x="271" y="-8" class="mn">82</text><text x="511" y="-8" class="mn">83</text><text x="751" y="-8" class="mn">84</text>
<use href="#staff4"/>
<rect class="R" x="31.5" y="12" width="225" height="6"/><rect class="O" x="31.5" y="57" width="225" height="6"/><rect class="O" x="271.5" y="57" width="225" height="6"/>
<circle cx="31.5" cy="15" r="5" class="R"/><circle cx="31.5" cy="60" r="5" class="O"/><circle cx="271.5" cy="60" r="5" class="O"/>
<use href="#syo8" x="480"/><use href="#rb7" x="720"/>
<rect class="sp" x="511.5" y="0" width="210" height="60"/>
<g class="e"><text x="270.5" y="76" class="a">140</text><text x="270.5" y="89" class="c">107940</text><text x="270.5" y="102" class="p">36.90%</text>
<text x="510.5" y="76" class="a">70</text><text x="510.5" y="89" class="c">108220</text><text x="510.5" y="102" class="p">36.90%</text>
<text x="750.5" y="76" class="a">400</text><text x="750.5" y="89" class="c">109820</text><text x="750.5" y="102" class="p">61.90%</text>
<text x="990.5" y="76" class="a">350</text><text x="990.5" y="89" class="c">111220</text><text x="990.5" y="102" class="p">61.90%</text></g>
</g>

<g id="row22" transform="translate(0,3166.5)">
<text x="31" y="-8" class="mn">85</text><text x="271" y="-8" class="mn">86</text><text x="511" y="-8" class="mn">87</text><text x="751" y="-8" class="mn">88</text>
<use href="#staff4"/>
<use href="#gy8"/><rect class="Y" x="451.5" y="27" width="45" height="6"/><use href="#fb" x="240"/><use href="#yo8" x="480"/><use href="#rb8" x="720"/>
<rect class="bl" x="481.5" y="0" width="510" height="60"/>
<g class="e"><text x="270.5" y="76" class="a">400</text><text x="270.5" y="89" class="c">112820</text><text x="270.5" y="102" class="p">61.90%</text>
<text x="510.5" y="76" class="a">209</text><text x="510.5" y="89" class="c">113672</text><text x="510.5" y="102" class="p">60.32%</text>
<text x="750.5" y="76" class="a">400</text><text x="750.5" y="89" class="c">116872</text><text x="750.5" y="102" class="p">47.82%</text>
<text x="990.5" y="76" class="a">400</text><text x="990.5" y="89" class="c">120072</text><text x="990.5" y="102" class="p">35.32%</text></g>
</g>

<g id="row23" transform="translate(0,3307.5)">
<text x="31" y="-8" class="mn">89</text><text x="271" y="-8" class="mn">90</text><text x="511" y="-8" class="mn">91</text><text x="751" y="-8" class="mn">92</text>
<use href="#staff4"/>
<circle cx="391.5" cy="30" r="5" class="Y"/><circle cx="421.5" cy="45" r="5" class="B"/><circle cx="451.5" cy="30" r="5" class="Y"/><circle cx="481.5" cy="15" r="5" class="R"/>
<use href="#yo8" x="480"/><use href="#rb7" x="720"/>
<rect class="bl" x="31.5" y="0" width="960" height="60"/>
<g class="e"><text x="270.5" y="76" class="a">0</text><text x="270.5" y="89" class="c">120072</text><text x="270.5" y="102" class="p">22.82%</text>
<text x="510.5" y="76" class="a">100</text><text x="510.5" y="89" class="c">120872</text><text x="510.5" y="102" class="p">10.32%</text>
<text x="750.5" y="76" class="a">400</text><text x="750.5" y="89" class="c">124072</text><text x="750.5" y="102" class="p">0.00%</text>
<text x="990.5" y="76" class="a">350</text><text x="990.5" y="89" class="c">126872</text><text x="990.5" y="102" class="p">0.00%</text></g>
</g>

<g id="row24" transform="translate(0,3448.5)">
<text x="31" y="-8" class="mn">93</text><text x="271" y="-8" class="mn">94</text><text x="511" y="-8" class="mn">95</text><text x="751" y="-8" class="mn">96</text>
<use href="#staff4"/>
<use href="#gy8"/><rect class="Y" x="451.5" y="27" width="60" height="6"/><use href="#fb" x="240"/><use href="#rbb" x="480"/><use href="#rba" x="720"/>
<rect class="bl" x="31.5" y="0" width="197" height="60"/><rect class="rd" x="228.5" y="0" width="13" height="60"/>
<g class="e"><text x="270.5" y="76" class="a">400</text><text x="270.5" y="89" class="c">130072</text><text x="270.5" y="102" class="p">0.00%</text>
<text x="510.5" y="76" class="a">212</text><text x="510.5" y="89" class="c">130920</text><text x="510.5" y="102" class="p">0.00%</text>
<text x="750.5" y="76" class="a">175</text><text x="750.5" y="89" class="c">131620</text><text x="750.5" y="102" class="p">0.00%</text>
<text x="990.5" y="76" class="a">200</text><text x="990.5" y="89" class="c">132420</text><text x="990.5" y="102" class="p">0.00%</text></g>
</g>

<g id="row25" transform="translate(0,3589.5)">
<text x="31" y="-8" class="mn">97</text><text x="271" y="-8" class="mn">98</text><text x="511" y="-8" class="mn">99</text><text x="751" y="-8" class="mn">100</text>
<use href="#staff4"/>
<use href="#rba"/><use href="#rya" x="240"/><use href="#rbb" x="480"/><use href="#rba" x="720"/>
<g class="e"><text x="270.5" y="76" class="a">200</text><text x="270.5" y="89" class="c">133220</text><text x="270.5" y="102" class="p">0.00%</text>
<text x="510.5" y="76" class="a">200</text><text x="510.5" y="89" class="c">134020</text><text x="510.5" y="102" class="p">0.00%</text>
<text x="750.5" y="76" class="a">175</text><text x="750.5" y="89" class="c">134720</text><text x="750.5" y="102" class="p">0.00%</text>
<text x="990.5" y="76" class="a">200</text><text x="990.5" y="89" class="c">135520</text><text x="990.5" y="102" class="p">0.00%</text></g>
</g>

<g id="row26" transform="translate(0,3730.5)">
<text x="31" y="-8" class="mn">101</text><text x="271" y="-8" class="mn">102</text>
<use href="#staff2"/>
<use href="#rba"/>
<circle cx="271.5" cy="15" r="5" class="R"/><circle cx="331.5" cy="15" r="5" class="R"/><circle cx="391.5" cy="15" r="5" class="R"/><circle cx="451.5" cy="15" r="5" class="R"/><circle cx="301.5" cy="30" r="5" class="Y"/><circle cx="361.5" cy="30" r="5" class="Y"/><circle cx="421.5" cy="30" r="5" class="Y"/><circle cx="481.5" cy="0" r="5" class="G"/>
<g class="e"><text x="270.5" y="76" class="a">200</text><text x="270.5" y="89" class="c">136320</text><text x="270.5" y="102" class="p">0.00%</text>
<text x="510.5" y="76" class="a">200</text><text x="510.5" y="89" class="c">137120</text><text x="510.5" y="102" class="p">0.00%</text></g>
</g>
</svg>
